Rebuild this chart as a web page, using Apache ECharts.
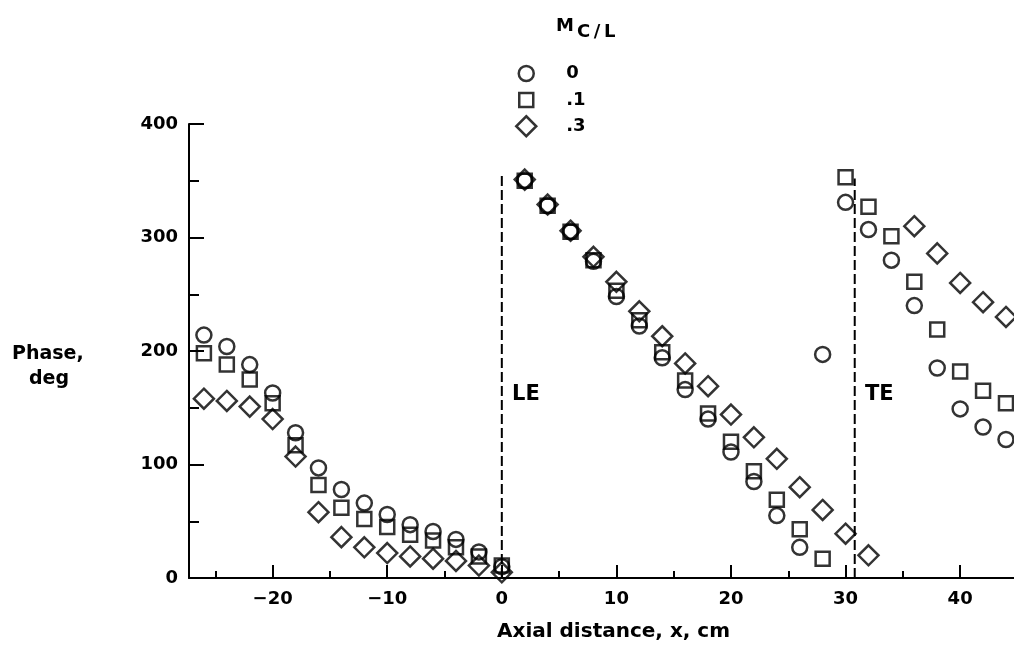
<!DOCTYPE html>
<html>
<head>
<meta charset="utf-8">
<script src="https://cdn.jsdelivr.net/npm/echarts@6/dist/echarts.min.js"></script>
<style>
  html, body { margin: 0; padding: 0; background: #fff; }
  #chart { width: 1014px; height: 648px; }
</style>
</head>
<body>
<div id="chart"></div>
<script>
// axial stations (cm) and phase (deg) for each centerline Mach number
const axialX = [-26, -24, -22, -20, -18, -16, -14, -12, -10, -8, -6, -4, -2, 0,
  2, 4, 6, 8, 10, 12, 14, 16, 18, 20, 22, 24, 26, 28,
  30, 32, 34, 36, 38, 40, 42, 44];
const phaseM0 = [214, 204, 188, 163, 128, 97, 78, 66, 56, 47, 41, 34, 23, 10,
  350, 328, 305, 279, 248, 222, 194, 166, 140, 111, 85, 55, 27, 197,
  331, 307, 280, 240, 185, 149, 133, 122];
const phaseM1 = [198, 188, 175, 154, 117, 82, 62, 52, 45, 38, 33, 27, 19, 11,
  350, 328, 305, 280, 253, 227, 199, 174, 145, 120, 94, 69, 43, 17,
  353, 327, 301, 261, 219, 182, 165, 154];
const phaseM3 = [158, 156, 151, 140, 107, 58, 36, 27, 22, 19, 17, 15, 11, 5,
  351, 329, 306, 283, 261, 235, 213, 189, 169, 144, 124, 105, 80, 60,
  39, 20, null, 310, 286, 260, 243, 230];
const seriesNames = ['0', '.1', '.3'];

const xMajorTicks = [-20, -10, 0, 10, 20, 30, 40];
const xMinorTicks = [-25, -15, -5, 5, 15, 25, 35];
const leLine = [[0, 0], [0, 355]];
const teLine = [[30.8, 0], [30.8, 352]];

const FONT = 'DejaVu Sans';

function pairs(ys) {
  return axialX.map((x, i) => [x, ys[i]]).filter(p => p[1] != null);
}

function pointSeries(name, symbol, size, ys) {
  return {
    name: name,
    type: 'scatter',
    symbol: symbol,
    symbolSize: size,
    itemStyle: { color: 'rgba(0,0,0,0)', borderColor: '#000', borderWidth: 2.5 },
    emphasis: { disabled: true },
    data: pairs(ys)
  };
}

function dashSeries(pts) {
  return {
    type: 'line',
    silent: true,
    symbol: 'none',
    lineStyle: { color: '#000', width: 2, type: [10, 4] },
    data: pts
  };
}

// one small legend per series so each marker keeps its own size
function legendFor(name, top, size) {
  return {
    data: [name],
    left: 525 - size / 2,
    top: top - size / 2,
    padding: 0,
    itemWidth: size,
    itemHeight: size,
    itemGap: 0,
    symbolKeepAspect: true,
    selectedMode: false,
    itemStyle: { borderWidth: 2.5, borderColor: '#000', color: 'rgba(0,0,0,0)' },
    textStyle: {
      fontFamily: FONT, fontWeight: 'bold', fontSize: 18, color: '#000',
      padding: [0, 0, 0, 40 - size / 2 - 5]
    }
  };
}

const chart = echarts.init(document.getElementById('chart'));

const labelFont = { fontFamily: FONT, fontWeight: 'bold', fontSize: 18, color: '#000' };

let option = {
  animation: false,
  backgroundColor: '#fff',
  grid: { left: 189, right: 0, top: 124, bottom: 70 },
  legend: [
    legendFor('0', 72, 15),
    legendFor('.1', 98, 14),
    legendFor('.3', 125, 20)
  ],
  xAxis: [
    {
      type: 'value', min: -27.3, max: 44.7,
      axisLine: { onZero: false, lineStyle: { color: '#000', width: 2 } },
      axisTick: { inside: true, length: 13, customValues: xMajorTicks, lineStyle: { color: '#000', width: 2 } },
      axisLabel: Object.assign({
        customValues: xMajorTicks, margin: 12,
        formatter: v => String(v).replace('-', '\u2212')
      }, labelFont),
      splitLine: { show: false }
    },
    {
      type: 'value', min: -27.3, max: 44.7, position: 'bottom',
      axisLine: { show: false, onZero: false },
      axisTick: { inside: true, length: 7, customValues: xMinorTicks, lineStyle: { color: '#000', width: 2 } },
      axisLabel: { show: false },
      splitLine: { show: false }
    }
  ],
  yAxis: {
    type: 'value', min: 0, max: 400, interval: 100,
    axisLine: { show: true, onZero: false, lineStyle: { color: '#000', width: 2 } },
    axisTick: { show: true, inside: true, length: 15, lineStyle: { color: '#000', width: 2 } },
    minorTick: { show: true, splitNumber: 2, length: 10, lineStyle: { color: '#000', width: 2 } },
    axisLabel: Object.assign({ margin: 11 }, labelFont),
    splitLine: { show: false }
  },
  series: [
    dashSeries(leLine),
    dashSeries(teLine),
    pointSeries(seriesNames[0], 'circle', 15, phaseM0),
    pointSeries(seriesNames[1], 'rect', 14, phaseM1),
    pointSeries(seriesNames[2], 'diamond', 20, phaseM3)
  ],
  graphic: [
    { type: 'text', left: 556, top: 17, style: { text: 'M', font: 'bold 18px "DejaVu Sans"', fill: '#000' } },
    { type: 'text', left: 577, top: 23, style: { text: 'C\u2009/\u2009L', font: 'bold 18px "DejaVu Sans"', fill: '#000' } },
    { type: 'text', left: 12, top: 345, style: { text: 'Phase,', font: 'bold 19px "DejaVu Sans"', fill: '#000' } },
    { type: 'text', left: 29, top: 370, style: { text: 'deg', font: 'bold 19px "DejaVu Sans"', fill: '#000' } },
    { type: 'text', left: 512, top: 384, style: { text: 'LE', font: 'bold 21px "DejaVu Sans"', fill: '#000' } },
    { type: 'text', left: 865, top: 384, style: { text: 'TE', font: 'bold 21px "DejaVu Sans"', fill: '#000' } },
    { type: 'text', left: 497, top: 622, style: { text: 'Axial distance, x, cm', font: 'bold 20px "DejaVu Sans"', fill: '#000' } }
  ]
};

chart.setOption(option);
</script>
</body>
</html>
